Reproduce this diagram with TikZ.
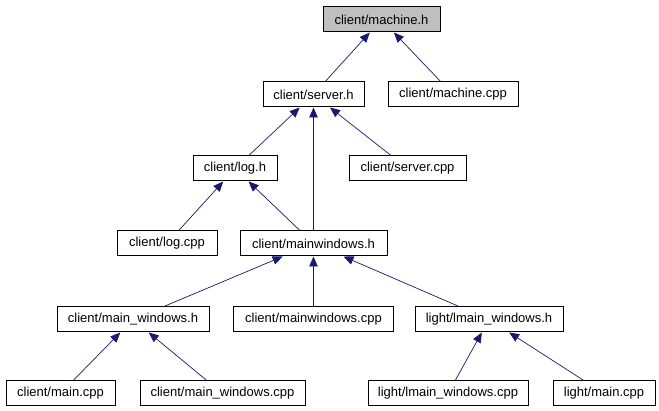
\documentclass[tikz,border=0pt]{standalone}
\usepackage{fontspec}
\setmainfont{Liberation Sans}
\usetikzlibrary{arrows.meta}
\definecolor{edgeblue}{HTML}{191970}
\definecolor{rootgray}{HTML}{BFBFBF}
\tikzset{
  filebox/.style={draw=black, line width=1pt, fill=white, minimum height=25pt,
    inner sep=0pt, font=\fontsize{13}{15}\selectfont},
  rootbox/.style={filebox, fill=rootgray},
  dep/.style={draw=edgeblue, line width=0.7pt,
    -{Triangle[length=10pt,width=8.5pt]}, shorten >=0pt, shorten <=0pt}
}
\begin{document}
\begin{tikzpicture}[x=1pt,y=-1pt]
\useasboundingbox[fill=white] (0,0) rectangle (659,411);
\node[rootbox, minimum width=117pt] (machineh) at (381.5,19.5) {client/machine.h};
\node[filebox, minimum width=101pt] (serverh) at (313.5,94.5) {client/server.h};
\node[filebox, minimum width=130pt] (machinecpp) at (453,94.5) {client/machine.cpp};
\node[filebox, minimum width=84pt] (logh) at (235,168.5) {client/log.h};
\node[filebox, minimum width=117pt] (servercpp) at (407.5,168.5) {client/server.cpp};
\node[filebox, minimum width=100pt] (logcpp) at (167,243.5) {client/log.cpp};
\node[filebox, minimum width=147pt] (mainwindowsh) at (313.5,243.5) {client/mainwindows.h};
\node[filebox, minimum width=152pt] (mainwh) at (133,319.5) {client/main\_windows.h};
\node[filebox, minimum width=160pt] (mainwindowscpp) at (313.5,319.5) {client/mainwindows.cpp};
\node[filebox, minimum width=148pt] (lmainwh) at (489,319.5) {light/lmain\_windows.h};
\node[filebox, minimum width=109pt] (maincpp) at (60.5,393.5) {client/main.cpp};
\node[filebox, minimum width=165pt] (mainwcpp) at (222.5,393.5) {client/main\_windows.cpp};
\node[filebox, minimum width=160pt] (lmainwcpp) at (448,393.5) {light/lmain\_windows.cpp};
\node[filebox, minimum width=102pt] (lightmaincpp) at (604,393.5) {light/main.cpp};

\draw[dep] (serverh) -- (machineh);
\draw[dep] (machinecpp) -- (machineh);
\draw[dep] (logh) -- (serverh);
\draw[dep] (mainwindowsh) -- (serverh);
\draw[dep] (servercpp) -- (serverh);
\draw[dep] (logcpp) -- (logh);
\draw[dep] (mainwindowsh) -- (logh);
\draw[dep] (mainwh) -- (mainwindowsh);
\draw[dep] (mainwindowscpp) -- (mainwindowsh);
\draw[dep] (lmainwh) -- (mainwindowsh);
\draw[dep] (maincpp) -- (mainwh);
\draw[dep] (mainwcpp) -- (mainwh);
\draw[dep] (lmainwcpp) -- (lmainwh);
\draw[dep] (lightmaincpp) -- (lmainwh);
\end{tikzpicture}
\end{document}
